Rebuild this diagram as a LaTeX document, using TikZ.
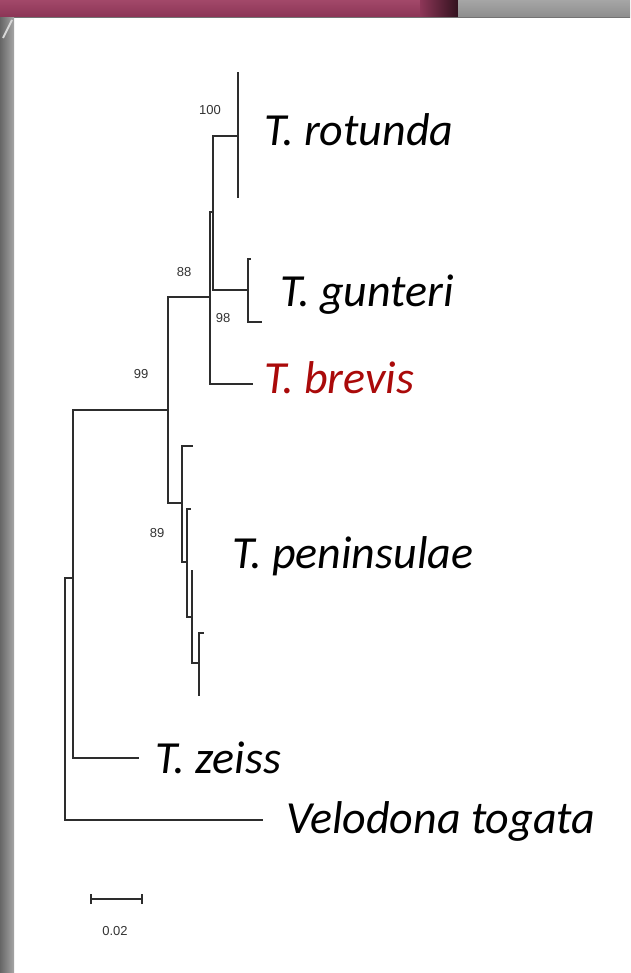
\documentclass[tikz,border=0pt]{standalone}
\usepackage{fontspec}
\setmainfont{Liberation Sans}
\newfontfamily\taxfont{Carlito}
\newfontfamily\numfont{Liberation Sans}
\definecolor{maroonA}{RGB}{162,72,105}
\definecolor{maroonB}{RGB}{138,52,85}
\definecolor{maroonD}{RGB}{50,18,30}
\definecolor{brevisred}{RGB}{170,10,10}
\definecolor{treeline}{RGB}{45,45,45}
\tikzset{
  branch/.style={draw=treeline, line width=1.3pt, line cap=rect},
  taxon/.style={anchor=base west, inner sep=0pt, font=\taxfont\itshape\fontsize{46}{46}\selectfont, text=black},
  boot/.style={anchor=center, inner sep=0pt, font=\numfont\fontsize{13}{13}\selectfont, text=black!80},
}
\begin{document}
\begin{tikzpicture}[x=1pt,y=-1pt]
\useasboundingbox (0,0) rectangle (630,973);
% background
\fill[white] (0,0) rectangle (630,973);
\shade[top color=maroonA, bottom color=maroonB] (0,0) rectangle (420,18);
\shade[left color=maroonB!90!maroonA, right color=maroonD] (420,0) rectangle (458,18);
\shade[top color=black!35, bottom color=black!45] (458,0) rectangle (630,18);
\fill[black!55] (0,17) rectangle (630,18.5);
\shade[left color=black!60, right color=black!35] (0,18) rectangle (14,973);
\draw[white!85!black, line width=2pt] (3,38) -- (12,20);

% tree coordinates
\coordinate (r)   at (65,578);
\coordinate (z)   at (73,578);
\coordinate (vt)  at (262,820);
\coordinate (zt)  at (138,758);
\coordinate (n99) at (168,410);
\coordinate (n88) at (210,297);
\coordinate (u)   at (213,212);
\coordinate (br)  at (252,384);
\coordinate (rn)  at (238,136);
\coordinate (rt1) at (238,73);
\coordinate (rt2) at (238,197);
\coordinate (gn)  at (248,290);
\coordinate (gt1) at (250,259);
\coordinate (gt2) at (261,322);
\coordinate (pa)  at (182,503);
\coordinate (pt1) at (192,446);
\coordinate (pb)  at (187,562);
\coordinate (pt2) at (190,509);
\coordinate (pc)  at (192,617);
\coordinate (pt3) at (192,571);
\coordinate (pd)  at (199,663);
\coordinate (pt4) at (203,633);
\coordinate (pt5) at (199,695);

% branches
\draw[branch] (r) |- (z);
\draw[branch] (r) |- (vt);
\draw[branch] (z) |- (n99);
\draw[branch] (z) |- (zt);
\draw[branch] (n99) |- (n88);
\draw[branch] (n99) |- (pa);
\draw[branch] (n88) |- (u);
\draw[branch] (n88) |- (br);
\draw[branch] (u) |- (rn);
\draw[branch] (u) |- (gn);
\draw[branch] (rn) -- (rt1);
\draw[branch] (rn) -- (rt2);
\draw[branch] (gn) |- (gt1);
\draw[branch] (gn) |- (gt2);
\draw[branch] (pa) |- (pt1);
\draw[branch] (pa) |- (pb);
\draw[branch] (pb) |- (pt2);
\draw[branch] (pb) |- (pc);
\draw[branch] (pc) -- (pt3);
\draw[branch] (pc) |- (pd);
\draw[branch] (pd) |- (pt4);
\draw[branch] (pd) -- (pt5);

% bootstrap values
\node[boot] (b100) at (210,110) {100};
\node[boot] (b88)  at (184,272) {88};
\node[boot] (b98)  at (223,318) {98};
\node[boot] (b99)  at (141,374) {99};
\node[boot] (b89)  at (157,533) {89};

% taxa
\node[taxon] (lrot) at (264,146) {T. rotunda};
\node[taxon] (lgun) at (280,306) {T. gunteri};
\node[taxon, text=brevisred] (lbre) at (264,393) {T. brevis};
\node[taxon] (lpen) at (232,568) {T. peninsulae};
\node[taxon] (lzei) at (155,773) {T. zeiss};
\node[taxon] (lvel) at (286,833) {Velodona togata};

% scale bar
\coordinate (sb1) at (91,899);
\coordinate (sb2) at (142,899);
\draw[branch, line cap=butt] (sb1) -- (sb2);
\draw[branch, line cap=butt] ([yshift=-5pt]sb1) -- ([yshift=5pt]sb1);
\draw[branch, line cap=butt] ([yshift=-5pt]sb2) -- ([yshift=5pt]sb2);
\node[boot] (sbl) at (115,931) {0.02};
\end{tikzpicture}
\end{document}
